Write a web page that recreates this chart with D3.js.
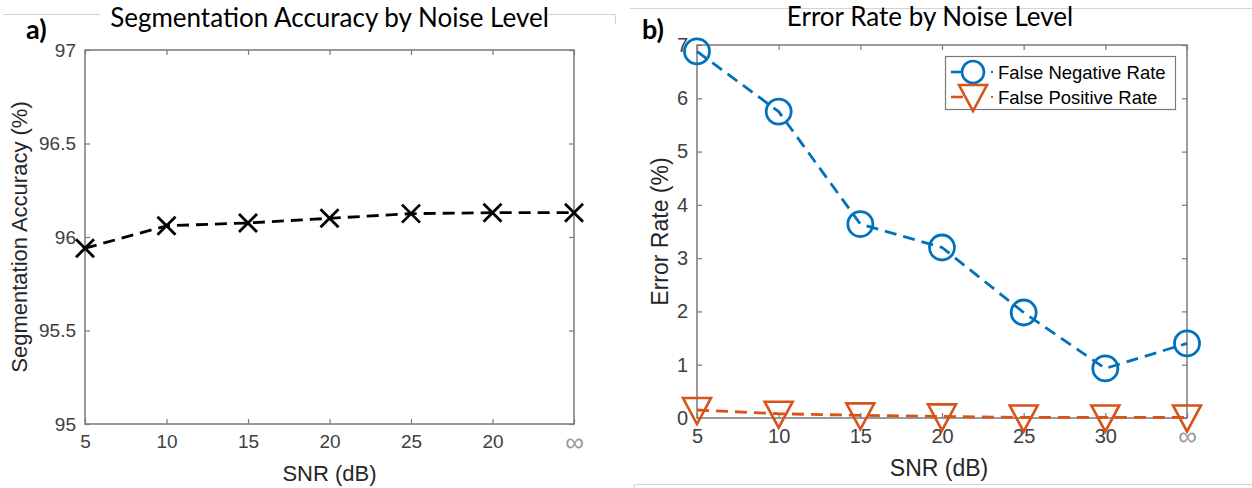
<!DOCTYPE html>
<html>
<head>
<meta charset="utf-8">
<script src="https://cdn.jsdelivr.net/npm/d3@7"></script>
<style>
  body { margin: 0; background: #fff; }
  svg { display: block; }
  .tick text { font-family: "Liberation Sans", Arial, sans-serif; font-size: 19px; fill: #404040; }
  .panel-b .tick text { font-size: 20px; }
  .axis-label { font-family: "Liberation Sans", Arial, sans-serif; font-size: 22px; fill: #262626; }
  .title { font-family: Lato, "Open Sans", sans-serif; font-size: 26px; fill: #000; }
  .panel-tag { font-family: Lato, "Open Sans", sans-serif; font-size: 27px; font-weight: bold; fill: #000; }
  .legend-text { font-family: "Liberation Sans", Arial, sans-serif; font-size: 18.5px; fill: #000; }
</style>
</head>
<body>
<div id="chart"></div>
<script>
// data
const snrLabelsA = ["5", "10", "15", "20", "25", "20", "\u221e"];
const snrLabelsB = ["5", "10", "15", "20", "25", "30", "\u221e"];
const accuracy = [95.94, 96.06, 96.075, 96.10, 96.125, 96.13, 96.13];
const accTicks = [95, 95.5, 96, 96.5, 97];
const falseNegRate = [6.88, 5.75, 3.64, 3.2, 1.98, 0.93, 1.4];
const falsePosRate = [0.15, 0.08, 0.05, 0.03, 0.01, 0.01, 0.01];
const errTicks = [0, 1, 2, 3, 4, 5, 6, 7];
const seriesNames = ["False Negative Rate", "False Positive Rate"];

const width = 1252, height = 488;
const blue = "#0072BD", orange = "#D95319";
const axisGrey = "#7a7a7a";

const svg = d3.select("#chart").append("svg")
  .attr("width", width)
  .attr("height", height);

// faint slide borders around the two pictures
const frame = svg.append("g").attr("stroke", "#d4d4d4").attr("fill", "none").attr("stroke-width", 1);
frame.append("path").attr("d", "M3,14.5H615.5V24");
frame.append("path").attr("d", "M630,8.5H1252");
frame.append("path").attr("d", "M634.5,488V484.5H1252");

// one MATLAB style axes box
function drawAxes(box, labels, yDomain, yTicks, yFormat, cls) {
  const x = d3.scalePoint().domain(d3.range(labels.length)).range([box.left, box.right]);
  const y = d3.scaleLinear().domain(yDomain).range([box.bottom, box.top]);
  const g = svg.append("g").attr("class", cls);

  g.append("rect")
    .attr("x", box.left).attr("y", box.top)
    .attr("width", box.right - box.left).attr("height", box.bottom - box.top)
    .attr("fill", "#fff").attr("stroke", axisGrey).attr("stroke-width", 1.5);

  const styleAxis = sel => {
    sel.select(".domain").remove();
    sel.selectAll(".tick line").attr("stroke", axisGrey).attr("stroke-width", 1.2);
  };

  g.append("g").attr("transform", `translate(0,${box.bottom})`)
    .call(d3.axisBottom(x).tickSizeInner(-5).tickSizeOuter(0).tickPadding(11)
      .tickFormat(i => labels[i]))
    .call(styleAxis)
    .selectAll("text").filter(i => labels[i] === "\u221e")
      .style("fill", "#9a9a9a").style("font-size", "26px").attr("dy", "0.62em");

  g.append("g").attr("transform", `translate(0,${box.top})`)
    .call(d3.axisTop(x).tickSizeInner(-5).tickSizeOuter(0).tickFormat(""))
    .call(styleAxis);

  g.append("g").attr("transform", `translate(${box.left},0)`)
    .call(d3.axisLeft(y).tickValues(yTicks).tickSizeInner(-5).tickSizeOuter(0).tickPadding(9)
      .tickFormat(yFormat))
    .call(styleAxis);

  g.append("g").attr("transform", `translate(${box.right},0)`)
    .call(d3.axisRight(y).tickValues(yTicks).tickSizeInner(-5).tickSizeOuter(0).tickFormat(""))
    .call(styleAxis);

  return { x, y };
}

const line = (x, y) => d3.line().x((d, i) => x(i)).y(d => y(d));

// ---- a) segmentation accuracy ----
const boxA = { left: 85, right: 574, top: 50, bottom: 424 };
const a = drawAxes(boxA, snrLabelsA, [95, 97], accTicks, d3.format("~g"), "panel-a");

svg.append("path")
  .datum(accuracy)
  .attr("d", line(a.x, a.y))
  .attr("fill", "none").attr("stroke", "#000")
  .attr("stroke-width", 2.8).attr("stroke-dasharray", "12,7");

svg.append("g").selectAll("path.cross")
  .data(accuracy)
  .join("path")
  .attr("class", "cross")
  .attr("transform", (d, i) => `translate(${a.x(i)},${a.y(d)})`)
  .attr("d", "M-9,-9L9,9M-9,9L9,-9")
  .attr("stroke", "#000").attr("stroke-width", 2.8);

// white strip so the border line stops at the title
svg.append("rect")
  .attr("x", 100).attr("y", 8).attr("width", 448).attr("height", 14).attr("fill", "#fff");
svg.append("text").attr("class", "title")
  .attr("x", (boxA.left + boxA.right) / 2).attr("y", 27)
  .attr("text-anchor", "middle")
  .text("Segmentation Accuracy by Noise Level");

svg.append("text").attr("class", "panel-tag").attr("x", 26).attr("y", 39).text("a)");

svg.append("text").attr("class", "axis-label")
  .attr("transform", `translate(27,${(boxA.top + boxA.bottom) / 2}) rotate(-90)`)
  .attr("text-anchor", "middle")
  .text("Segmentation Accuracy (%)");

svg.append("text").attr("class", "axis-label")
  .attr("x", (boxA.left + boxA.right) / 2).attr("y", 481)
  .attr("text-anchor", "middle")
  .text("SNR (dB)");

// ---- b) error rates ----
const boxB = { left: 697, right: 1187, top: 45, bottom: 418 };
const b = drawAxes(boxB, snrLabelsB, [0, 7], errTicks, d3.format("d"), "panel-b");

const triPath = "M-14,-12L14,-12L0,14Z";

svg.append("path")
  .datum(falsePosRate)
  .attr("d", line(b.x, b.y))
  .attr("fill", "none").attr("stroke", orange)
  .attr("stroke-width", 2.8).attr("stroke-dasharray", "12,7");

svg.append("g").selectAll("path.tri")
  .data(falsePosRate)
  .join("path")
  .attr("class", "tri")
  .attr("transform", (d, i) => `translate(${b.x(i)},${b.y(d)})`)
  .attr("d", triPath)
  .attr("fill", "none").attr("stroke", orange).attr("stroke-width", 2.6);

svg.append("path")
  .datum(falseNegRate)
  .attr("d", line(b.x, b.y))
  .attr("fill", "none").attr("stroke", blue)
  .attr("stroke-width", 2.8).attr("stroke-dasharray", "12,7");

svg.append("g").selectAll("circle.circ")
  .data(falseNegRate)
  .join("circle")
  .attr("class", "circ")
  .attr("cx", (d, i) => b.x(i))
  .attr("cy", d => b.y(d))
  .attr("r", 12.5)
  .attr("fill", "none").attr("stroke", blue).attr("stroke-width", 2.8);

svg.append("text").attr("class", "title")
  .attr("x", 930).attr("y", 26)
  .attr("text-anchor", "middle")
  .text("Error Rate by Noise Level");

svg.append("text").attr("class", "panel-tag").attr("x", 642).attr("y", 39).text("b)");

svg.append("text").attr("class", "axis-label")
  .style("font-size", "23px")
  .attr("transform", `translate(668,${(boxB.top + boxB.bottom) / 2}) rotate(-90)`)
  .attr("text-anchor", "middle")
  .text("Error Rate (%)");

svg.append("text").attr("class", "axis-label")
  .style("font-size", "23px")
  .attr("x", (boxB.left + boxB.right) / 2 - 3).attr("y", 476)
  .attr("text-anchor", "middle")
  .text("SNR (dB)");

// legend
const legend = svg.append("g").attr("transform", "translate(945,56)");
legend.append("rect")
  .attr("x", 0.5).attr("y", 0.5).attr("width", 230).attr("height", 53)
  .attr("fill", "#fff").attr("stroke", axisGrey).attr("stroke-width", 1.2);

const legendColors = [blue, orange];
seriesNames.forEach((name, i) => {
  const row = legend.append("g").attr("transform", `translate(0,${16 + i * 25})`);
  const c = legendColors[i];
  row.append("line").attr("x1", 6).attr("x2", 18).attr("y1", 0).attr("y2", 0)
    .attr("stroke", c).attr("stroke-width", 2.6);
  row.append("line").attr("x1", 46).attr("x2", 48).attr("y1", 0).attr("y2", 0)
    .attr("stroke", c).attr("stroke-width", 2);
  if (i === 0) {
    row.append("circle").attr("cx", 28).attr("r", 11)
      .attr("fill", "none").attr("stroke", c).attr("stroke-width", 2.6);
  } else {
    row.append("path").attr("transform", "translate(28,0)").attr("d", triPath)
      .attr("fill", "none").attr("stroke", c).attr("stroke-width", 2.6);
  }
  row.append("text").attr("class", "legend-text")
    .attr("x", 53).attr("y", 6.5)
    .text(name);
});
</script>
</body>
</html>
